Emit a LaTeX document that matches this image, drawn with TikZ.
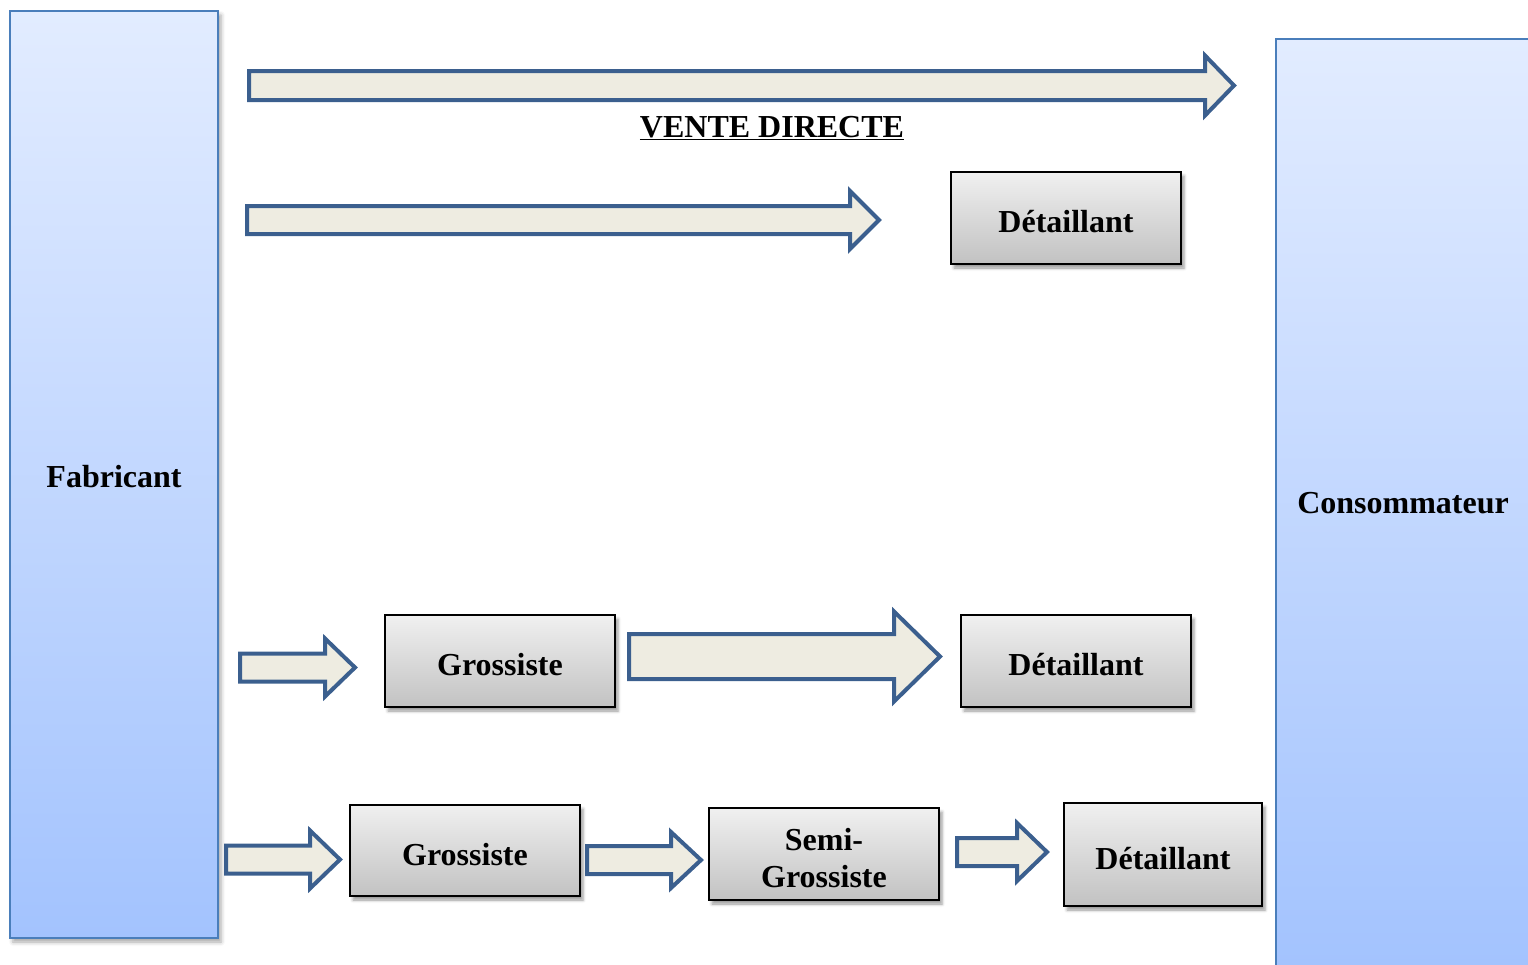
\documentclass[tikz,border=0pt]{standalone}
\usepackage{fontspec}
\setmainfont{Liberation Serif}
\usetikzlibrary{shadows.blur}

\definecolor{actorTop}{HTML}{E2ECFF}
\definecolor{actorBot}{HTML}{A3C3FE}
\definecolor{actorLine}{HTML}{4A7EBB}
\definecolor{boxTop}{HTML}{F0F0F0}
\definecolor{boxBot}{HTML}{C2C2C2}
\definecolor{flowFill}{HTML}{EEECE1}
\definecolor{flowLine}{HTML}{3B5F8E}

\tikzset{
  lbl/.style={font=\fontsize{32}{37}\selectfont\bfseries},
  actor/.style={lbl, draw=actorLine, line width=2.2pt, top color=actorTop, bottom color=actorBot,
    blur shadow={shadow xshift=3pt, shadow yshift=-4pt, shadow blur radius=4pt, shadow opacity=35}},
  agent/.style={lbl, draw=black, line width=1.6pt, top color=boxTop, bottom color=boxBot,
    minimum width=230pt, minimum height=92pt, inner sep=0pt, align=center,
    text height=29pt, text depth=0pt,
    blur shadow={shadow xshift=3pt, shadow yshift=-4pt, shadow blur radius=3pt, shadow opacity=40}},
  flow/.style={draw=flowLine, fill=flowFill, line width=4pt, miter limit=4}
}

% block arrow: start x, tip x, centre y, body half-height, head half-height, head length
\newcommand{\flowarrow}[6]{%
  \draw[flow] (#1,#3-#4) -- (#2-#6,#3-#4) -- (#2-#6,#3-#5) -- (#2,#3)
    -- (#2-#6,#3+#5) -- (#2-#6,#3+#4) -- (#1,#3+#4) -- cycle;}

\begin{document}
\begin{tikzpicture}[x=1pt,y=-1pt]
\useasboundingbox (0,0) rectangle (1528,964);

% end points of the chain
\node[actor, minimum width=208pt, minimum height=927pt] (fab) at (114,474.5) {};
\node[lbl] (fabt) at (114,477) {Fabricant};
\node[actor, minimum width=254pt, minimum height=927pt] (cons) at (1403,502.5) {};
\node[lbl] (const) at (1403,503.5) {Consommateur};

% direct channel
\flowarrow{249}{1234}{85.5}{14.5}{30}{29}
\node[lbl] (vd) at (772,128) {\underline{VENTE DIRECTE}};

% short channel
\flowarrow{247}{879}{220}{14}{29}{29}
\node[agent] (d1) at (1066,218) {Détaillant};

% long channel
\flowarrow{240}{355}{667.5}{14}{29}{30}
\node[agent] (g1) at (500,661) {Grossiste};
\flowarrow{629}{940}{656.5}{22.5}{45}{46}
\node[agent] (d2) at (1076,661) {Détaillant};

% very long channel
\flowarrow{226}{340}{859.5}{14}{29}{30}
\node[agent, minimum height=91pt] (g2) at (465,850.5) {Grossiste};
\flowarrow{587}{701}{860}{14}{28}{30}
\node[agent, text height=66pt] (sg) at (824,854) {Semi-\\Grossiste};
\flowarrow{957}{1047}{852}{14}{29}{30}
\node[agent, minimum width=198pt, minimum height=103pt] (d3) at (1163,854.5) {Détaillant};
\end{tikzpicture}
\end{document}
